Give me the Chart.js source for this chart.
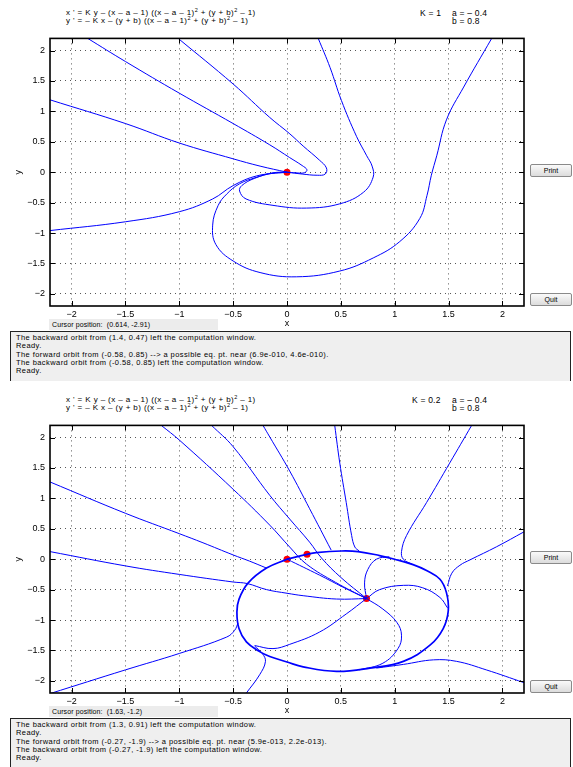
<!DOCTYPE html>
<html>
<head>
<meta charset="utf-8">
<script src="https://cdn.jsdelivr.net/npm/chart.js@4"></script>
<style>
  body { margin: 0; background: #fff; font-family: "Liberation Sans", Arial, sans-serif; }
  #page { position: relative; width: 573px; height: 767px; overflow: hidden; }
  .eq { position: absolute; font-size: 8px; letter-spacing: 0.4px; line-height: 8.5px; color: #000; white-space: nowrap; }
  .eq sup { font-size: 5.5px; vertical-align: 3px; line-height: 0; }
  .par { position: absolute; font-size: 8.5px; letter-spacing: 0.2px; line-height: 8.5px; white-space: nowrap; }
  .btn { position: absolute; width: 40px; height: 11px; border: 1px solid #8a8a8a; border-radius: 2px;
         background: linear-gradient(#fafafa, #dcdcdc); font-size: 7px; line-height: 11px; text-align: center; }
  .cursor { position: absolute; left: 49px; width: 169px; height: 11px; background: #ececec;
            font-size: 7px; letter-spacing: 0.1px; line-height: 11px; padding-left: 3px; box-sizing: border-box; white-space: nowrap; }
  .msg { position: absolute; left: 10px; width: 561px; height: 50px; background: #efefef;
         border: 1px solid #222; border-bottom: none; box-sizing: border-box; padding: 2px 0 0 5px;
         font-size: 7.5px; letter-spacing: 0.42px; line-height: 8.33px; white-space: nowrap; }
  canvas { position: absolute; left: 0; }
</style>
</head>
<body>
<div id="page">
  <div class="eq" style="left:66px;top:8.5px">x ' = K y &ndash; (x &ndash; a &ndash; 1) ((x &ndash; a &ndash; 1)<sup>2</sup> + (y + b)<sup>2</sup> &ndash; 1)<br>y ' = &ndash; K x &ndash; (y + b) ((x &ndash; a &ndash; 1)<sup>2</sup> + (y + b)<sup>2</sup> &ndash; 1)</div>
  <div class="par" style="left:420px;top:8.5px">K = 1</div>
  <div class="par" style="left:452px;top:8.5px">a = &ndash; 0.4<br>b = 0.8</div>
  <canvas id="chart1" width="528" height="302" style="top:28px"></canvas>
  <div class="btn" style="left:530px;top:164px">Print</div>
  <div class="btn" style="left:530px;top:293px">Quit</div>
  <div class="cursor" style="top:319px">Cursor position:&nbsp; (0.614, -2.91)</div>
  <div class="msg" style="top:331px">The backward orbit from (1.4, 0.47) left the computation window.<br>Ready.<br>The forward orbit from (-0.58, 0.85) --&gt; a possible eq. pt. near (6.9e-010, 4.6e-010).<br>The backward orbit from (-0.58, 0.85) left the computation window.<br>Ready.</div>

  <div class="eq" style="left:66px;top:395.5px">x ' = K y &ndash; (x &ndash; a &ndash; 1) ((x &ndash; a &ndash; 1)<sup>2</sup> + (y + b)<sup>2</sup> &ndash; 1)<br>y ' = &ndash; K x &ndash; (y + b) ((x &ndash; a &ndash; 1)<sup>2</sup> + (y + b)<sup>2</sup> &ndash; 1)</div>
  <div class="par" style="left:412px;top:395.5px">K = 0.2</div>
  <div class="par" style="left:452px;top:395.5px">a = &ndash; 0.4<br>b = 0.8</div>
  <canvas id="chart2" width="528" height="302" style="top:415px"></canvas>
  <div class="btn" style="left:530px;top:551px">Print</div>
  <div class="btn" style="left:530px;top:680px">Quit</div>
  <div class="cursor" style="top:706px">Cursor position:&nbsp; (1.63, -1.2)</div>
  <div class="msg" style="top:718px">The backward orbit from (1.3, 0.91) left the computation window.<br>Ready.<br>The forward orbit from (-0.27, -1.9) --&gt; a possible eq. pt. near (5.9e-013, 2.2e-013).<br>The backward orbit from (-0.27, -1.9) left the computation window.<br>Ready.</div>
</div>
<script>
// tick positions shared by both axes
var tickVals = [-2, -1.5, -1, -0.5, 0, 0.5, 1, 1.5, 2]

// K = 1 : orbits, as [x, y]
var topA = [[-2.2,1.19],[-1.5,0.8],[-1,0.48],[-0.5,0.22],[-0.25,0.1],[0,0]]
var topB = [[-1.85,2.2],[-1.5,1.82],[-1,1.3],[-0.5,0.8],[-0.16,0.45],[0.025,0.24],[0.14,0.11],[0.185,0.04],[0.16,-0.01],[0.08,-0.01],[0,0]]
var topC = [[-1.01,2.2],[-0.5,1.45],[-0.16,0.9],[0.02,0.64],[0.15,0.43],[0.3,0.2],[0.366,0.07],[0.355,-0.03],[0.28,-0.05],[0.14,-0.03],[0,0]]
var topD = [[-2.2,-0.96],[-1.5,-0.815],[-1,-0.65],[-0.69,-0.44],[-0.5,-0.22],[-0.28,-0.06],[0,0]]
var topE = [[0,0],[-0.13,-0.01],[-0.285,-0.085],[-0.44,-0.19],[-0.56,-0.36],[-0.64,-0.55],[-0.69,-0.87],[-0.66,-1.19],[-0.5,-1.46],[-0.25,-1.65],[0.087,-1.72],[0.49,-1.625],[0.8,-1.41],[1.047,-1.14],[1.233,-0.76],[1.3,-0.38],[1.34,-0.05],[1.39,0.27],[1.48,0.86],[1.64,1.4],[1.9,2.2]]
var topF = [[0,0],[-0.13,-0.015],[-0.3,-0.1],[-0.42,-0.22],[-0.44,-0.31],[-0.38,-0.44],[-0.13,-0.545],[0.18,-0.59],[0.49,-0.52],[0.71,-0.33],[0.8,-0.08],[0.79,0.1],[0.74,0.27],[0.645,0.59],[0.505,1.18],[0.4,1.72],[0.29,2.2]]
var topEq = [[0,0]]

// K = 0.2 : orbits
var botCycle = [[0,0],[0.186,0.08],[0.27,0.108],[0.505,0.135],[0.66,0.125],[0.86,0.06],[1.0,0.0],[1.17,-0.09],[1.3,-0.19],[1.42,-0.33],[1.48,-0.55],[1.497,-0.85],[1.45,-1.14],[1.33,-1.41],[1.08,-1.68],[0.77,-1.79],[0.46,-1.845],[0.15,-1.77],[0,-1.69],[-0.16,-1.6],[-0.254,-1.52],[-0.377,-1.36],[-0.446,-1.14],[-0.465,-0.87],[-0.446,-0.66],[-0.36,-0.39],[-0.19,-0.146],[0,0]]
var bot1 = [[-2.2,1.27],[-1.5,0.755],[-1,0.42],[-0.78,0.27],[-0.5,0.07],[-0.35,-0.03],[-0.19,-0.146]]
var bot2 = [[-2.2,0.125],[-1.5,-0.11],[-1,-0.25],[-0.5,-0.375],[-0.37,-0.4],[-0.19,-0.5],[0,-0.56],[0.15,-0.6],[0.46,-0.655],[0.738,-0.647]]
var bot3 = [[-2.2,-2.21],[-1.5,-1.82],[-1,-1.55],[-0.56,-1.28],[-0.486,-1.17],[-0.455,-1.05]]
var bot4 = [[-0.377,-2.2],[-0.254,-1.9],[-0.2,-1.68],[-0.23,-1.55],[-0.3,-1.43]]
var bot4b = [[-0.3,-1.42],[-0.13,-1.47],[0.025,-1.4],[0.3,-1.2],[0.55,-0.9],[0.738,-0.647]]
var bot5 = [[-1.167,2.2],[-1,1.96],[-0.5,1.15],[-0.16,0.56],[0.025,0.2],[0.18,-0.08],[0.45,-0.38],[0.738,-0.647]]
var bot6 = [[-0.7,2.2],[-0.5,1.85],[-0.16,1.05],[0.025,0.66],[0.21,0.28],[0.32,0.02],[0.5,-0.3],[0.738,-0.647]]
var bot7 = [[-0.223,2.2],[-0.16,2.01],[0.025,1.45],[0.21,0.83],[0.41,0.15]]
var bot8 = [[0.443,2.2],[0.49,1.58],[0.55,0.93],[0.6,0.39],[0.63,0.2],[0.67,0.135]]
var bot9 = [[1.714,2.2],[1.51,1.58],[1.295,0.93],[1.11,0.39],[1.063,0.125],[1.08,0.0],[1.17,-0.09]]
var bot10 = [[2.2,0.45],[1.946,0.205],[1.7,-0.01],[1.605,-0.1],[1.53,-0.23],[1.49,-0.44]]
var bot11 = [[2.2,-2.03],[1.85,-1.82],[1.575,-1.68],[1.36,-1.655],[1.08,-1.73],[0.83,-1.79]]
var bot12 = [[0,0],[0.3,-0.26],[0.52,-0.46],[0.738,-0.647]]
var inner1 = [[0.738,-0.647],[0.72,-0.39],[0.75,-0.17],[0.83,0.0],[0.95,0.04]]
var inner2 = [[0.738,-0.647],[0.86,-0.5],[1.08,-0.43],[1.26,-0.47],[1.42,-0.63],[1.49,-0.8]]
var inner3 = [[0.738,-0.647],[0.89,-0.82],[1.02,-1.04],[1.063,-1.25],[1.03,-1.47],[0.89,-1.71],[0.67,-1.82]]
var botEq = [[0,0],[0.186,0.08],[0.738,-0.647]]

function pts(arr) {
    return arr.map(function (p) { return { x: p[0], y: p[1] } })
}

function orbita(arr, largura) {
    return {
        data: pts(arr),
        showLine: true,
        borderColor: '#0000ff',
        borderWidth: largura || 1,
        pointRadius: 0,
        tension: 0.4,
        fill: false
    }
}

function equilibrios(arr) {
    return {
        data: pts(arr),
        showLine: false,
        pointRadius: 3.5,
        pointBackgroundColor: '#ff0000',
        pointBorderColor: '#ff0000',
        pointBorderWidth: 0
    }
}

// box and inward tick marks like the matlab axes
var caixa = {
    id: 'caixa',
    afterDatasetsDraw: function (chart) {
        var ctx = chart.ctx
        var a = chart.chartArea
        var sx = chart.scales.x
        var sy = chart.scales.y
        ctx.save()
        ctx.strokeStyle = '#000'
        ctx.lineWidth = 1
        ctx.beginPath()
        for (let i = 0; i < tickVals.length; i++) {
            var px = Math.round(sx.getPixelForValue(tickVals[i])) + 0.5
            ctx.moveTo(px, a.bottom); ctx.lineTo(px, a.bottom - 5)
            ctx.moveTo(px, a.top); ctx.lineTo(px, a.top + 5)
            var py = Math.round(sy.getPixelForValue(tickVals[i])) + 0.5
            ctx.moveTo(a.left, py); ctx.lineTo(a.left + 5, py)
            ctx.moveTo(a.right, py); ctx.lineTo(a.right - 5, py)
        }
        ctx.stroke()
        ctx.lineWidth = 1.6
        ctx.strokeRect(a.left, a.top, a.right - a.left, a.bottom - a.top)
        ctx.restore()
    }
}

function menos(v) {
    return String(v).replace('-', '\u2212')
}

function eixos() {
    var fonte = { size: 9, family: 'Liberation Sans' }
    return {
        x: {
            type: 'linear', min: -2.2, max: 2.2,
            afterBuildTicks: function (s) { s.ticks = tickVals.map(function (v) { return { value: v } }) },
            afterFit: function (s) { s.height = 24 },
            grid: { color: '#555', lineWidth: 1, drawTicks: false },
            border: { display: false, dash: [1, 4] },
            ticks: { color: '#000', font: fonte, padding: 3, maxRotation: 0, callback: menos },
            title: { display: true, text: 'x', color: '#000', font: fonte, padding: { top: 0, bottom: 1 } }
        },
        y: {
            type: 'linear', min: -2.2, max: 2.2,
            afterBuildTicks: function (s) { s.ticks = tickVals.map(function (v) { return { value: v } }) },
            afterFit: function (s) { s.width = 50 },
            grid: { color: '#555', lineWidth: 1, drawTicks: false },
            border: { display: false, dash: [1, 4] },
            ticks: { color: '#000', font: fonte, padding: 5, callback: menos },
            title: { display: true, text: 'y', color: '#000', font: fonte, padding: { top: 13, bottom: 0 } }
        }
    }
}

function grafico(id, conjuntos) {
    return new Chart(document.getElementById(id), {
        type: 'scatter',
        data: { datasets: conjuntos },
        options: {
            responsive: false,
            animation: false,
            layout: { padding: { top: 5, right: 3, left: 0, bottom: 0 } },
            plugins: { legend: { display: false }, tooltip: { enabled: false } },
            scales: eixos()
        },
        plugins: [caixa]
    })
}

grafico('chart1', [
    orbita(topA), orbita(topB), orbita(topC), orbita(topD), orbita(topE), orbita(topF),
    equilibrios(topEq)
])

grafico('chart2', [
    orbita(botCycle, 1.7),
    orbita(bot1), orbita(bot2), orbita(bot3), orbita(bot4), orbita(bot4b), orbita(bot5), orbita(bot6),
    orbita(bot7), orbita(bot8), orbita(bot9), orbita(bot10), orbita(bot11), orbita(bot12),
    orbita(inner1), orbita(inner2), orbita(inner3),
    equilibrios(botEq)
])
</script>
</body>
</html>
